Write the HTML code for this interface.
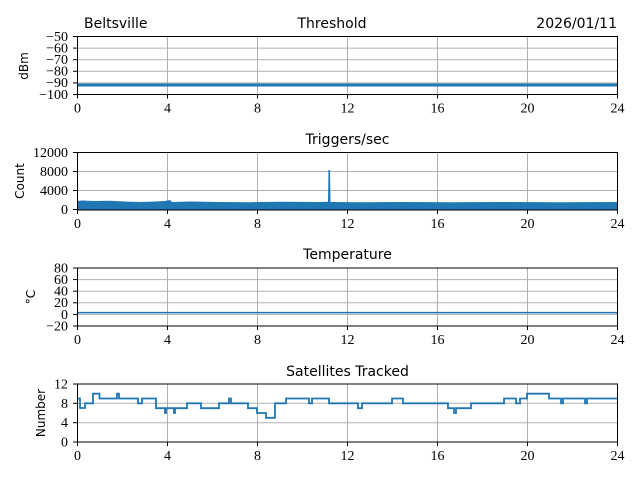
<!DOCTYPE html>
<html><head><meta charset="utf-8"><style>
body{margin:0;background:#fff;width:640px;height:480px;overflow:hidden}
svg{display:block}
</style></head><body>
<svg width="640" height="480" viewBox="0 0 640 480" font-family="Liberation Serif, serif">
<defs>
<g id="vg" stroke="#b0b0b0" stroke-width="1">
<line x1="167.5" x2="167.5" y1="0" y2="58"/><line x1="257.5" x2="257.5" y1="0" y2="58"/>
<line x1="347.5" x2="347.5" y1="0" y2="58"/><line x1="437.5" x2="437.5" y1="0" y2="58"/>
<line x1="527.5" x2="527.5" y1="0" y2="58"/>
</g>
<g id="xt">
<g stroke="#000"><line x1="77.5" x2="77.5" y1="0" y2="4"/><line x1="167.5" x2="167.5" y1="0" y2="4"/><line x1="257.5" x2="257.5" y1="0" y2="4"/><line x1="347.5" x2="347.5" y1="0" y2="4"/><line x1="437.5" x2="437.5" y1="0" y2="4"/><line x1="527.5" x2="527.5" y1="0" y2="4"/><line x1="617.5" x2="617.5" y1="0" y2="4"/></g>
<g font-family="Liberation Serif, serif" font-size="14" text-anchor="middle"><text x="77.5" y="18">0</text><text x="167.5" y="18">4</text><text x="257.5" y="18">8</text><text x="347.5" y="18">12</text><text x="437.5" y="18">16</text><text x="527.5" y="18">20</text><text x="617.5" y="18">24</text></g>
</g>
</defs>
<g font-family="DejaVu Sans, sans-serif" font-size="14">
<text x="84" y="28">Beltsville</text>
<text x="332" y="28" text-anchor="middle">Threshold</text>
<text x="617" y="28" text-anchor="end">2026/01/11</text>
<text x="347.5" y="144" text-anchor="middle">Triggers/sec</text>
<text x="347.5" y="259" text-anchor="middle">Temperature</text>
<text x="347.5" y="376" text-anchor="middle">Satellites Tracked</text>
</g>
<g font-family="DejaVu Sans, sans-serif" font-size="12" text-anchor="middle">
<text transform="translate(28,66) rotate(-90)">dBm</text>
<text transform="translate(24,181) rotate(-90)">Count</text>
<text transform="translate(35,297) rotate(-90)">°C</text>
<text transform="translate(45,413) rotate(-90)">Number</text>
</g>
<!-- Plot 1 -->
<g transform="translate(0,36.5)"><use href="#vg"/></g>
<g stroke="#b0b0b0"><line x1="77" x2="618" y1="48.1" y2="48.1"/><line x1="77" x2="618" y1="59.7" y2="59.7"/><line x1="77" x2="618" y1="71.3" y2="71.3"/><line x1="77" x2="618" y1="82.9" y2="82.9"/></g>
<line x1="77.5" x2="617.5" y1="85" y2="85" stroke="#1f77b4" stroke-width="3"/>
<rect x="77.5" y="36.5" width="540" height="58" fill="none" stroke="#000"/>
<g font-size="14" text-anchor="end"><text x="68" y="41">−50</text><text x="68" y="52.5">−60</text><text x="68" y="64">−70</text><text x="68" y="75.5">−80</text><text x="68" y="87">−90</text><text x="68" y="99">−100</text></g>
<g stroke="#000"><line x1="73" x2="77" y1="36.5" y2="36.5"/><line x1="73" x2="77" y1="48.1" y2="48.1"/><line x1="73" x2="77" y1="59.7" y2="59.7"/><line x1="73" x2="77" y1="71.3" y2="71.3"/><line x1="73" x2="77" y1="82.9" y2="82.9"/><line x1="73" x2="77" y1="94.5" y2="94.5"/></g>
<g transform="translate(0,94.5)"><use href="#xt"/></g>
<!-- Plot 2 -->
<g transform="translate(0,152.5)"><use href="#vg"/></g>
<g stroke="#b0b0b0"><line x1="77" x2="618" y1="171.5" y2="171.5"/><line x1="77" x2="618" y1="190.5" y2="190.5"/></g>
<path d="M77.5,210 V201 L82,200.5 L95,201 L110,200.8 L125,201.5 L140,202 L155,201.5 L165,201 L170,200 L172,202 L190,201.5 L220,202 L250,202.2 L280,201.8 L320,202 L328,201.8 L328.5,170 L330,170 L330.5,202 L360,202.3 L400,202 L450,202.2 L500,202 L560,202.3 L617.5,202 V210 Z" fill="#1f77b4"/>
<rect x="77.5" y="152.5" width="540" height="57.5" fill="none" stroke="#000"/>
<g font-size="14" text-anchor="end"><text x="68" y="157">12000</text><text x="68" y="176">8000</text><text x="68" y="195">4000</text><text x="68" y="214">0</text></g>
<g stroke="#000"><line x1="73" x2="77" y1="152.5" y2="152.5"/><line x1="73" x2="77" y1="171.5" y2="171.5"/><line x1="73" x2="77" y1="190.5" y2="190.5"/><line x1="73" x2="77" y1="209.5" y2="209.5"/></g>
<g transform="translate(0,210)"><use href="#xt"/></g>
<!-- Plot 3 -->
<g transform="translate(0,268)"><use href="#vg"/></g>
<g stroke="#b0b0b0"><line x1="77" x2="618" y1="279.6" y2="279.6"/><line x1="77" x2="618" y1="291.2" y2="291.2"/><line x1="77" x2="618" y1="302.8" y2="302.8"/><line x1="77" x2="618" y1="314.4" y2="314.4"/></g>
<line x1="77.5" x2="617.5" y1="312.6" y2="312.6" stroke="#1f77b4" stroke-width="1.5"/>
<rect x="77.5" y="268" width="540" height="58" fill="none" stroke="#000"/>
<g font-size="14" text-anchor="end"><text x="68" y="272.5">80</text><text x="68" y="284">60</text><text x="68" y="295.5">40</text><text x="68" y="307">20</text><text x="68" y="319">0</text><text x="68" y="330.5">−20</text></g>
<g stroke="#000"><line x1="73" x2="77" y1="268" y2="268"/><line x1="73" x2="77" y1="279.6" y2="279.6"/><line x1="73" x2="77" y1="291.2" y2="291.2"/><line x1="73" x2="77" y1="302.8" y2="302.8"/><line x1="73" x2="77" y1="314.4" y2="314.4"/><line x1="73" x2="77" y1="326" y2="326"/></g>
<g transform="translate(0,326)"><use href="#xt"/></g>
<!-- Plot 4 -->
<g transform="translate(0,384)"><use href="#vg"/></g>
<g stroke="#b0b0b0"><line x1="77" x2="618" y1="403.3" y2="403.3"/><line x1="77" x2="618" y1="422.7" y2="422.7"/></g>
<path d="M77.5,398.5 H80 V408 H85 V403.3 H93 V393.7 H99.5 V398.5 H117 V393.7 H119 V398.5 H138 V403.3 H142 V398.5 H156 V408.2 H165 V413 H166 V408.2 H174 V413 H175 V408.2 H187 V403.3 H201 V408.2 H219 V403.3 H229 V398.5 H231 V403.3 H248 V408.2 H257 V413 H266 V417.8 H275 V403.3 H286 V398.5 H309 V403.3 H312 V398.5 H329 V403.3 H358 V408.2 H362 V403.3 H392 V398.5 H403 V403.3 H448 V408.2 H454 V413 H456 V408.2 H471 V403.3 H504 V398.5 H516 V403.3 H520 V398.5 H527 V393.7 H549 V398.5 H561 V403.3 H563 V398.5 H585 V403.3 H587 V398.5 H617.5" fill="none" stroke="#1f77b4" stroke-width="1.8"/>
<rect x="77.5" y="384" width="540" height="58" fill="none" stroke="#000"/>
<g font-size="14" text-anchor="end"><text x="68" y="388.5">12</text><text x="68" y="408">8</text><text x="68" y="427">4</text><text x="68" y="446.5">0</text></g>
<g stroke="#000"><line x1="73" x2="77" y1="384" y2="384"/><line x1="73" x2="77" y1="403.3" y2="403.3"/><line x1="73" x2="77" y1="422.7" y2="422.7"/><line x1="73" x2="77" y1="442" y2="442"/></g>
<g transform="translate(0,442)"><use href="#xt"/></g>
</svg>
</body></html>
